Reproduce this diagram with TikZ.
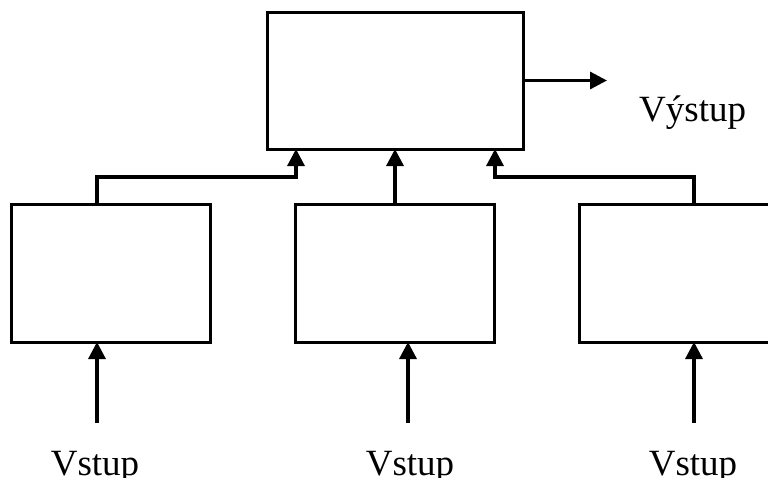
\documentclass[tikz,border=0pt]{standalone}
\usepackage{fontspec}
\setmainfont{Liberation Serif}
\usetikzlibrary{arrows.meta,calc}

\begin{document}
\begin{tikzpicture}[x=1pt,y=-1pt,
  block/.style={draw, line width=3pt, minimum width=199pt, minimum height=138pt,
                inner sep=0pt, outer sep=0pt},
  flow/.style={line width=3.2pt, -{Triangle[length=17pt,width=17pt]}},
  lbl/.style={font=\fontsize{37}{44}\selectfont, inner sep=0pt}]
  \useasboundingbox (0,0) rectangle (768,477);

  % combining block and the three input blocks
  \node[block, minimum width=256pt, minimum height=137pt] (tb) at (395,80.5) {};
  \node[block] (lb) at (110.5,273) {};
  \node[block] (mb) at (394.5,273) {};
  \node[block] (rb) at (678.5,273) {};

  % input arrow feet and output arrow end
  \coordinate (in1) at (97,423);
  \coordinate (in2) at (408,423);
  \coordinate (in3) at (694,423);
  \coordinate (out) at (607,80.5);
  \coordinate (t1) at ($(tb.south west)+(29,0)$);
  \coordinate (t3) at ($(tb.south east)+(-28,0)$);

  % inputs
  \draw[flow] (in1) -- (in1 |- lb.south);
  \draw[flow] (in2) -- (in2 |- mb.south);
  \draw[flow] (in3) -- (in3 |- rb.south);

  % block outputs into the combining block
  \draw[flow] (in1 |- lb.north) -- ++(0,-27) -| (t1);
  \draw[flow] (mb.north -| tb.south) -- (tb.south);
  \draw[flow] (in3 |- rb.north) -- ++(0,-27) -| (t3);

  % final output
  \draw[flow] (tb.east) -- (out);

  % labels
  \node[lbl, anchor=base west] (vy) at (639,121) {Výstup};
  \node[lbl, anchor=base] (v1) at (95,475) {Vstup};
  \node[lbl, anchor=base] (v2) at (410,475) {Vstup};
  \node[lbl, anchor=base] (v3) at (693,475) {Vstup};
\end{tikzpicture}
\end{document}
